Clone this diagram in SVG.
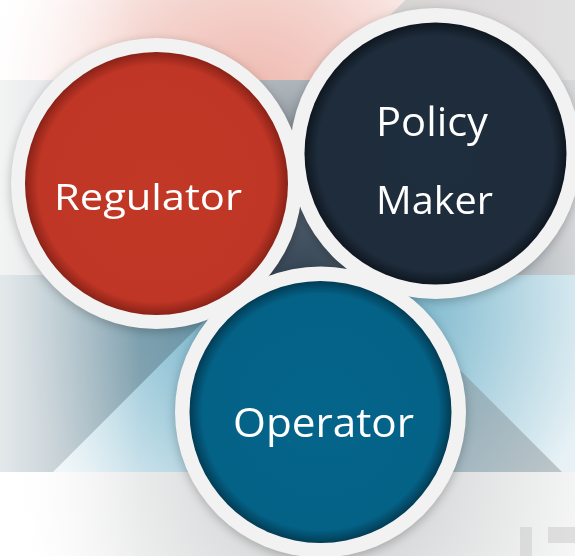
<svg xmlns="http://www.w3.org/2000/svg" width="575" height="556" viewBox="0 0 575 556">
  <defs>
    <radialGradient id="pink" gradientUnits="userSpaceOnUse" cx="250" cy="115" r="270">
      <stop offset="0" stop-color="#eeb5ab"/>
      <stop offset="0.45" stop-color="#f4d2cc"/>
      <stop offset="1" stop-color="#ffffff"/>
    </radialGradient>
    <linearGradient id="topgray" x1="0" y1="0" x2="1" y2="0">
      <stop offset="0" stop-color="#d3cfcf"/>
      <stop offset="1" stop-color="#e2e1e1"/>
    </linearGradient>
    <radialGradient id="grayband" gradientUnits="userSpaceOnUse" cx="300" cy="290" r="285">
      <stop offset="0" stop-color="#2f3f4f"/>
      <stop offset="0.25" stop-color="#4c5b69"/>
      <stop offset="0.7" stop-color="#aab1b7"/>
      <stop offset="1" stop-color="#d6d8da"/>
    </radialGradient>
    <radialGradient id="blueband" gradientUnits="userSpaceOnUse" cx="310" cy="300" r="300">
      <stop offset="0" stop-color="#5a9fbb"/>
      <stop offset="0.4" stop-color="#86bdd1"/>
      <stop offset="1" stop-color="#e8f2f6"/>
    </radialGradient>
    <radialGradient id="bottomband" gradientUnits="userSpaceOnUse" cx="330" cy="472" r="310">
      <stop offset="0" stop-color="#c8cacb"/>
      <stop offset="1" stop-color="#ffffff"/>
    </radialGradient>
    <linearGradient id="leftfade" x1="0" y1="0" x2="1" y2="0">
      <stop offset="0" stop-color="#ffffff" stop-opacity="0.7"/>
      <stop offset="1" stop-color="#ffffff" stop-opacity="0"/>
    </linearGradient>
    <radialGradient id="gRed">
      <stop offset="0" stop-color="#c13826"/>
      <stop offset="0.9" stop-color="#bf3626"/>
      <stop offset="1" stop-color="#8a2217"/>
    </radialGradient>
    <radialGradient id="gNavy">
      <stop offset="0" stop-color="#1f2e3e"/>
      <stop offset="0.9" stop-color="#1e2c3b"/>
      <stop offset="1" stop-color="#0f1720"/>
    </radialGradient>
    <radialGradient id="gTeal">
      <stop offset="0" stop-color="#05648a"/>
      <stop offset="0.9" stop-color="#046287"/>
      <stop offset="1" stop-color="#023c55"/>
    </radialGradient>
    <filter id="blur" x="-20%" y="-20%" width="140%" height="140%">
      <feGaussianBlur stdDeviation="5"/>
    </filter>
    <style>
      .ring { fill: #f2f2f2; }
      .label { font-family: "Open Sans", "Noto Sans", "DejaVu Sans", sans-serif; fill: #ffffff; font-weight: 400; }
      .shadow { fill: #000000; opacity: 0.22; }
    </style>
  </defs>

  <g id="background">
    <rect x="0" y="0" width="575" height="556" fill="#ffffff"/>
    <polygon points="0,0 405,0 325,80 0,80" fill="url(#pink)"/>
    <polygon points="405,0 575,0 575,80 325,80" fill="url(#topgray)"/>
    <rect x="0" y="80" width="575" height="195" fill="url(#grayband)"/>
    <rect x="0" y="275" width="575" height="197" fill="url(#blueband)"/>
    <polygon points="0,275 250,275 53,472 0,472" fill="#4f6b78" opacity="0.45"/>
    <polygon points="300,275 365,275 562,472 300,472" fill="#7a8288" opacity="0.4"/>
    <rect x="0" y="472" width="575" height="84" fill="url(#bottomband)"/>
    <rect x="520" y="527" width="12" height="29" fill="#cfcfcf" opacity="0.6"/>
    <rect x="548" y="527" width="27" height="16" fill="#cfcfcf" opacity="0.6"/>
    <rect x="0" y="0" width="140" height="556" fill="url(#leftfade)"/>
  </g>

  <g id="ring-shadows" filter="url(#blur)">
    <circle class="shadow" cx="156.5" cy="186" r="146"/>
    <circle class="shadow" cx="435.5" cy="156" r="146"/>
    <circle class="shadow" cx="320.5" cy="414.5" r="146"/>
  </g>

  <g id="regulator">
    <circle class="ring" cx="156.5" cy="183.5" r="145.5"/>
    <circle cx="156.5" cy="183.5" r="131.5" fill="url(#gRed)"/>
    <text class="label" x="54" y="210" font-size="37" textLength="188" lengthAdjust="spacingAndGlyphs">Regulator</text>
  </g>

  <g id="policy-maker">
    <circle class="ring" cx="435.5" cy="153.5" r="145.5"/>
    <circle cx="435.5" cy="153.5" r="131" fill="url(#gNavy)"/>
    <text class="label" x="376" y="136" font-size="41" textLength="112" lengthAdjust="spacingAndGlyphs">Policy</text>
    <text class="label" x="376" y="214" font-size="39" textLength="117" lengthAdjust="spacingAndGlyphs">Maker</text>
  </g>

  <g id="operator">
    <circle class="ring" cx="320.5" cy="412" r="145.5"/>
    <circle cx="320.5" cy="412" r="131" fill="url(#gTeal)"/>
    <text class="label" x="233" y="437" font-size="41" textLength="181" lengthAdjust="spacingAndGlyphs">Operator</text>
  </g>

  <g id="connectors"/>
</svg>
